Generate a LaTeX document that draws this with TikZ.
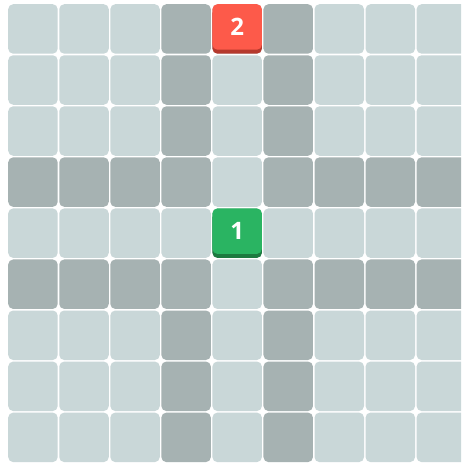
\documentclass[tikz,border=0pt]{standalone}
\usepackage{fontspec}
\setsansfont{Open Sans}
\usetikzlibrary{positioning}
\definecolor{cBg}{RGB}{255,255,255}
\definecolor{cLight}{RGB}{201,215,216}
\definecolor{cDark}{RGB}{166,178,178}
\definecolor{cRed}{RGB}{253,90,74}
\definecolor{cRedSh}{RGB}{181,57,45}
\definecolor{cGreen}{RGB}{42,180,98}
\definecolor{cGreenSh}{RGB}{29,122,64}
\tikzset{
  cell/.style={
    rectangle, rounded corners=5pt, inner sep=0pt, anchor=north west,
    minimum width=49.5pt, minimum height=49.5pt,
  },
  tile/.style={
    rectangle, rounded corners=5pt, inner sep=0pt, anchor=north west,
    minimum width=49.5pt, minimum height=45.5pt,
    text=white, font=\sffamily\bfseries\fontsize{24}{24}\selectfont,
  },
}

\begin{document}
\begin{tikzpicture}[x=1pt, y=-1pt]

\useasboundingbox (0,0) rectangle (461,463);
\clip (0,0) rectangle (461,463);
\fill[cBg] (0,0) rectangle (461,463);

% board
\foreach \r in {0,...,8} {
  \foreach \c in {0,...,8} {
    \pgfmathsetmacro{\isdark}{((\c==3 || \c==5 || \r==3 || \r==5) && \c!=4 && \r!=4) ? 1 : 0}
    \ifdim\isdark pt>0pt
      \node[cell, fill=cDark] (c-\r-\c) at ({8+51.05*\c}, {4+51.05*\r}) {};
    \else
      \node[cell, fill=cLight] (c-\r-\c) at ({8+51.05*\c}, {4+51.05*\r}) {};
    \fi
  }
}

% numbered tiles
\node[tile, fill=cRedSh] (two-sh) at ({8+51.05*4}, {4+4}) {};
\node[tile, fill=cRed] (two) at ({8+51.05*4}, {4}) {2};

\node[tile, fill=cGreenSh] (one-sh) at ({8+51.05*4}, {4+51.05*4+4}) {};
\node[tile, fill=cGreen] (one) at ({8+51.05*4}, {4+51.05*4}) {1};

\end{tikzpicture}
\end{document}
